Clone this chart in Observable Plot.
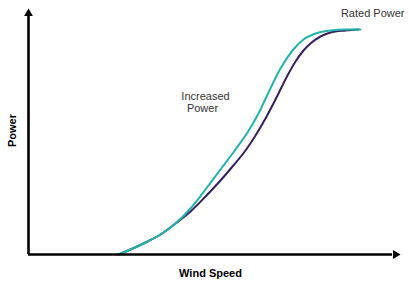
<!DOCTYPE html>
<html>
<head>
<meta charset="utf-8">
<script src="https://cdn.jsdelivr.net/npm/d3@7"></script>
<script src="https://cdn.jsdelivr.net/npm/@observablehq/plot@0.6"></script>
<style>
  html, body { margin: 0; padding: 0; background: #fff; }
</style>
</head>
<body>
<div id="chart"></div>
<script>
// Wind speed (arbitrary units) and power (arbitrary units)
const baseWind  = [90, 102, 117, 132, 147, 162, 177, 192, 204, 217, 227, 237, 247, 259, 267, 275, 282, 292, 302, 317, 330];
const basePower = [0, 5, 12, 20, 31, 43, 58, 74, 88, 104, 119, 136, 155, 179, 193, 204, 211, 218, 222, 224, 225];

const increasedWind  = [90, 102, 117, 132, 147, 162, 177, 192, 207, 219, 230, 240, 252, 264, 275, 287, 302, 317, 332];
const increasedPower = [0, 5, 12, 20, 31, 46, 65, 85, 105, 122, 141, 162, 186, 204, 215, 221, 224, 225, 225];

const labels = ["Increased", "Power", "Rated Power"];
const axisTitles = ["Wind Speed", "Power"];

const base = baseWind.map((w, i) => ({wind: w, power: basePower[i]}));
const increased = increasedWind.map((w, i) => ({wind: w, power: increasedPower[i]}));

const font = "'Liberation Sans', Arial, sans-serif";

const chart = Plot.plot({
  width: 409,
  height: 281,
  marginLeft: 28,
  marginRight: 9,
  marginTop: 8,
  marginBottom: 27,
  x: {domain: [0, 372], axis: null},
  y: {domain: [0, 246], axis: null},
  style: {fontFamily: font, background: "#fff", overflow: "visible"},
  marks: [
    Plot.line(base, {x: "wind", y: "power", curve: "monotone-x", stroke: "#35205f", strokeWidth: 2}),
    Plot.line(increased, {x: "wind", y: "power", curve: "monotone-x", stroke: "#22b3ab", strokeWidth: 2}),
    // axes
    Plot.ruleX([0], {y1: 0, y2: 238, stroke: "#000", strokeWidth: 2.6}),
    Plot.ruleY([0], {x1: 0, x2: 364, stroke: "#000", strokeWidth: 2.6}),
    Plot.dot([{x: 0, y: 241}], {x: "x", y: "y", symbol: "triangle2", r: 4.2, fill: "#000", stroke: null}),
    Plot.dot([{x: 367, y: 0}], {x: "x", y: "y", symbol: "triangle2", r: 4.2, fill: "#000", stroke: null, rotate: 90}),
    // annotations
    Plot.text([labels[0]], {x: 177, y: 158, text: d => d, fontSize: 11, fill: "#333", textAnchor: "middle"}),
    Plot.text([labels[1]], {x: 174, y: 146, text: d => d, fontSize: 11, fill: "#333", textAnchor: "middle"}),
    Plot.text([labels[2]], {x: 376, y: 241, text: d => d, fontSize: 11, fill: "#333", textAnchor: "end"}),
    Plot.text([axisTitles[0]], {x: 182, y: -19, text: d => d, fontSize: 11, fontWeight: "bold", fill: "#000", textAnchor: "middle"}),
    Plot.text([axisTitles[1]], {x: -16, y: 124, text: d => d, fontSize: 11, fontWeight: "bold", fill: "#000", textAnchor: "middle", rotate: -90})
  ]
});
document.getElementById("chart").appendChild(chart);
</script>
</body>
</html>
